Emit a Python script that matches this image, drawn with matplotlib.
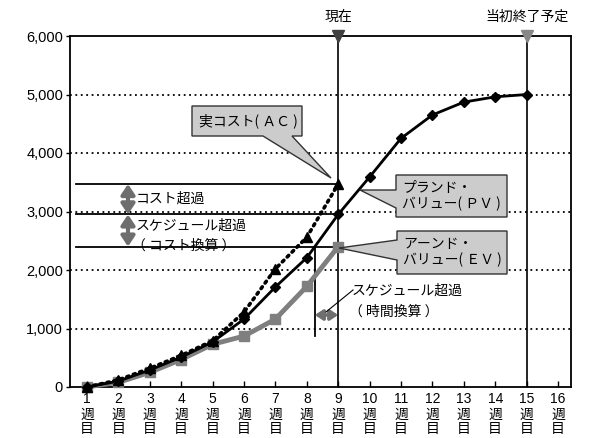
import matplotlib
matplotlib.use("Agg")
import matplotlib.pyplot as plt
from matplotlib.patches import Polygon
from matplotlib.ticker import FuncFormatter

plt.rcParams['font.family'] = ['Noto Sans CJK JP', 'DejaVu Sans']

weeks = list(range(1, 17))
week_nums = [str(w) for w in weeks]
week_suffix = ["週", "目"]
pv_weeks = list(range(1, 16))
pv = [0, 100, 290, 510, 770, 1160, 1710, 2210, 2950, 3590, 4250, 4650, 4870, 4960, 5000]
ac_weeks = list(range(1, 10))
ac = [0, 120, 320, 540, 790, 1280, 2020, 2560, 3470]
ev_weeks = list(range(1, 10))
ev = [0, 80, 250, 470, 730, 870, 1160, 1720, 2400]
yticks = [0, 1000, 2000, 3000, 4000, 5000, 6000]
now_week = 9
end_week = 15

W, H = 595, 438
fig = plt.figure(figsize=(W / 100, H / 100), dpi=100)
L, R, T, B = 70, 571, 36, 387
ax = fig.add_axes([L / W, 1 - B / H, (R - L) / W, (B - T) / H])
x0, x1 = 0.459, 16.414
ax.set_xlim(x0, x1)
ax.set_ylim(0, 6000)

def px(x):
    return 1 + (x - 87) / 31.4

def py(y):
    return (387 - y) / 58.5 * 1000

# grid
for v in yticks[1:-1]:
    ax.axhline(v, color='black', lw=1.3, ls=(0, (1, 2)), zorder=1)

# vertical lines
ax.axvline(now_week, color='black', lw=1.2, zorder=2)
ax.axvline(end_week, color='black', lw=1.2, zorder=2)

# horizontal reference lines
xl = px(76)
for v in [ac[-1], pv[now_week - 1], ev[-1]]:
    ax.plot([xl, now_week], [v, v], color='black', lw=1.3, zorder=2)

# vertical line where PV == EV(now)
i = 7
xs = pv_weeks[i] + (ev[-1] - pv[i]) / (pv[i + 1] - pv[i])
ax.plot([xs, xs], [880, ev[-1]], color='black', lw=1.3, zorder=2)

# series
ax.plot(ev_weeks, ev, color='#7f7f7f', lw=3.5, marker='s', ms=7, zorder=3, clip_on=False)
ax.plot(pv_weeks, pv, color='black', lw=2, marker='D', ms=5, zorder=4, clip_on=False)
ax.plot(ac_weeks, ac, color='black', lw=2.6, ls=(0, (0.6, 1.3)), dash_capstyle='round',
        zorder=4, clip_on=False)
ax.plot(ac_weeks, ac, color='black', lw=0, marker='^', ms=7, zorder=4, clip_on=False)

# double arrows (cost)
xa = px(128)
arrow_kw = dict(arrowstyle='<|-|>,head_length=0.6,head_width=0.4', color='#6e6e6e', lw=3,
                shrinkA=0, shrinkB=0, mutation_scale=10)
ax.annotate('', xy=(xa, ac[-1]), xytext=(xa, pv[now_week - 1]), arrowprops=arrow_kw, zorder=5)
ax.annotate('', xy=(xa, pv[now_week - 1]), xytext=(xa, ev[-1]), arrowprops=arrow_kw, zorder=5)
arrow_kw2 = dict(arrowstyle='<|-|>,head_length=0.45,head_width=0.3', color='#6e6e6e', lw=2.5,
                 shrinkA=0, shrinkB=0, mutation_scale=10)
ax.annotate('', xy=(xs, py(315)), xytext=(now_week, py(315)), arrowprops=arrow_kw2, zorder=5)

fs = 10
ax.text(px(136), py(199), 'コスト超過', fontsize=fs, va='center', ha='left', zorder=6)
ax.text(px(136), py(226), 'スケジュール超過', fontsize=fs, va='center', ha='left', zorder=6)
ax.text(px(132), py(246), '（ コスト換算 ）', fontsize=fs, va='center', ha='left', zorder=1)
ax.text(px(352), py(291), 'スケジュール超過', fontsize=fs, va='center', ha='left', zorder=6)
ax.text(px(349), py(312), '（ 時間換算 ）', fontsize=fs, va='center', ha='left', zorder=6)
ax.plot([px(353), px(326)], [py(290), py(312)], color='black', lw=0.8, zorder=6)

# callouts
def callout(pts, text, tx, ty):
    poly = Polygon([(px(a), py(b)) for a, b in pts], closed=True, facecolor='#cccccc',
                   edgecolor='#333333', lw=1.0, zorder=7, clip_on=False)
    ax.add_patch(poly)
    ax.text(px(tx), py(ty), text, fontsize=fs, va='center', ha='left', zorder=8,
            linespacing=1.2)

callout([(192, 106), (302, 106), (302, 136), (292, 136), (331, 178), (263, 136), (192, 136)],
        '実コスト( ＡＣ )', 199, 121)
callout([(396, 175), (507, 175), (507, 217), (396, 217), (396, 208), (360, 190), (396, 190)],
        'プランド・\nバリュー( ＰＶ )', 402, 196)
callout([(397, 231), (507, 231), (507, 274), (397, 274), (397, 260), (339, 248), (397, 240)],
        'アーンド・\nバリュー( ＥＶ )', 403, 252)

# top markers
ax.plot([now_week], [6000], marker='v', color='#404040', ms=9, clip_on=False, zorder=8)
ax.plot([end_week], [6000], marker='v', color='#888888', ms=9, clip_on=False, zorder=8)
ax.text(now_week, py(17), '現在', fontsize=fs, ha='center', va='center')
ax.text(end_week, py(17), '当初終了予定', fontsize=fs, ha='center', va='center')

# x tick labels (stacked vertically)
ax.set_xticks(weeks)
ax.set_xticklabels([])
ax.tick_params(axis='x', direction='in', length=4, width=1)
for w, n in zip(weeks, week_nums):
    ax.text(w, py(399), n, fontsize=10, ha='center', va='center', family='Liberation Sans',
            clip_on=False)
    ax.text(w, py(415), week_suffix[0], fontsize=10, ha='center', va='center', clip_on=False)
    ax.text(w, py(429), week_suffix[1], fontsize=10, ha='center', va='center', clip_on=False)

ax.set_yticks(yticks)
ax.yaxis.set_major_formatter(FuncFormatter(lambda v, p: f"{int(v):,}"))
ax.tick_params(axis='y', direction='out', length=3, width=1, labelsize=10.5, pad=2)
for lbl in ax.get_yticklabels():
    lbl.set_family(['Liberation Sans'])
for s in ax.spines.values():
    s.set_linewidth(1.3)
    s.set_color('black')

fig.savefig('out.png', dpi=100)
